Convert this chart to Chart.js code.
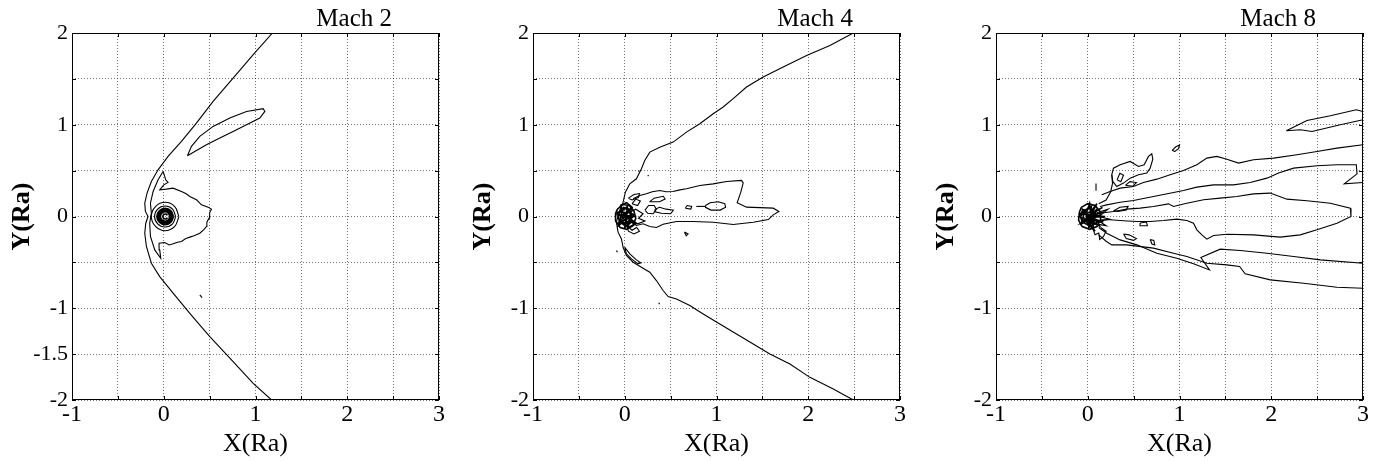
<!DOCTYPE html>
<html>
<head>
<meta charset="utf-8">
<script src="https://cdn.jsdelivr.net/npm/chart.js@4.4.0/dist/chart.umd.min.js"></script>
<style>
  body { margin: 0; background: #fff; width: 1382px; height: 461px; position: relative; overflow: hidden; }
  .panel { position: absolute; top: 0; height: 461px; }
</style>
</head>
<body>
<div class="panel" style="left:0px"><canvas id="mach2" width="460" height="461"></canvas></div>
<div class="panel" style="left:461px"><canvas id="mach4" width="460" height="461"></canvas></div>
<div class="panel" style="left:924px"><canvas id="mach8" width="458" height="461"></canvas></div>
<script>
// ---- tick labels ----
const xTickLabels = [-1, 0, 1, 2, 3];
const yTickLabelsMach2 = [2, 1, 0, -1, -1.5, -2];
const yTickLabels = [2, 1, 0, -1, -2];

// ---- Mach 2 contours (x, y in Ra) ----
const m2BowShock = [[1.185,2.0],[0.975,1.764],[0.756,1.509],[0.538,1.255],[0.356,1.018],[0.193,0.818],[0.047,0.655],[-0.062,0.509],[-0.135,0.382],[-0.182,0.255],[-0.207,0.145],[-0.2,0.055],[-0.171,0.0],[-0.196,-0.073],[-0.207,-0.182],[-0.189,-0.327],[-0.135,-0.509],[-0.044,-0.655],[0.102,-0.836],[0.284,-1.055],[0.502,-1.309],[0.756,-1.582],[0.975,-1.818],[1.175,-2.0]];
const m2Lobe = [[0.258,0.662],[0.302,0.764],[0.393,0.873],[0.538,0.982],[0.72,1.073],[0.902,1.145],[1.084,1.175],[1.102,1.145],[1.047,1.073],[0.902,1.0],[0.756,0.927],[0.611,0.855],[0.465,0.782],[0.338,0.709],[0.258,0.662]];
const m2Sheath = [[-0.007,0.491],[-0.062,0.4],[-0.116,0.273],[-0.145,0.145],[-0.135,0.036],[-0.153,-0.073],[-0.145,-0.218],[-0.098,-0.364],[-0.033,-0.455],[-0.044,-0.364],[-0.051,-0.291],[0.011,-0.284],[0.06,-0.31],[0.102,-0.298],[0.15,-0.28],[0.193,-0.273],[0.24,-0.24],[0.284,-0.225],[0.33,-0.21],[0.393,-0.182],[0.44,-0.14],[0.465,-0.109],[0.47,-0.06],[0.495,-0.018],[0.5,0.04],[0.52,0.08],[0.484,0.102],[0.411,0.127],[0.38,0.16],[0.356,0.182],[0.284,0.218],[0.24,0.25],[0.193,0.273],[0.102,0.309],[0.029,0.298],[-0.044,0.291],[0,0.345],[0.047,0.371],[0.022,0.4],[-0.007,0.491]];
const m2Ring1 = [[0.165,0],[0.12,0.108],[0.015,0.155],[-0.09,0.108],[-0.135,0],[-0.09,-0.108],[0.015,-0.155],[0.12,-0.108],[0.165,0]];
const m2Ring2 = [[0.13,0],[0.096,0.081],[0.015,0.115],[-0.066,0.081],[-0.1,0],[-0.066,-0.081],[0.015,-0.115],[0.096,-0.081],[0.13,0]];
const m2Ring3 = [[0.105,0],[0.078,0.063],[0.015,0.09],[-0.048,0.063],[-0.075,0],[-0.048,-0.063],[0.015,-0.09],[0.078,-0.063],[0.105,0]];
const m2Ring4 = [[0.095,0],[0.071,0.057],[0.015,0.081],[-0.041,0.057],[-0.065,0],[-0.041,-0.057],[0.015,-0.081],[0.071,-0.057],[0.095,0]];
const m2Ring5 = [[0.085,0],[0.064,0.049],[0.015,0.07],[-0.034,0.049],[-0.055,0],[-0.034,-0.049],[0.015,-0.07],[0.064,-0.049],[0.085,0]];
const m2Ring6 = [[0.075,0],[0.057,0.042],[0.015,0.06],[-0.027,0.042],[-0.045,0],[-0.027,-0.042],[0.015,-0.06],[0.057,-0.042],[0.075,0]];
const m2Ring7 = [[0.066,0],[0.051,0.036],[0.015,0.051],[-0.021,0.036],[-0.036,0],[-0.021,-0.036],[0.015,-0.051],[0.051,-0.036],[0.066,0]];
const m2Core = [[0.04,0.012],[0.025,0.026],[0.0,0.02],[-0.01,0],[0.0,-0.02],[0.025,-0.026],[0.04,-0.012]];
const m2Speck = [[0.393,-0.855],[0.418,-0.884]];

// ---- Mach 4 contours ----
const m4Shock = [[2.491,2.0],[2.236,1.865],[1.982,1.756],[1.727,1.629],[1.509,1.52],[1.327,1.411],[1.182,1.284],[1.073,1.193],[0.964,1.12],[0.818,1.011],[0.673,0.92],[0.527,0.811],[0.382,0.756],[0.273,0.702],[0.218,0.611],[0.182,0.52],[0.127,0.411],[0.055,0.356],[0.007,0.265],[-0.018,0.156],[-0.062,0.047],[-0.091,-0.062],[-0.073,-0.171],[-0.036,-0.244],[-0.018,-0.335],[0.018,-0.425],[0.091,-0.498],[0.182,-0.553],[0.273,-0.607],[0.345,-0.698],[0.418,-0.807],[0.473,-0.873],[0.564,-0.898],[0.709,-0.971],[0.855,-1.062],[1.036,-1.171],[1.218,-1.28],[1.4,-1.389],[1.582,-1.498],[1.8,-1.607],[2.018,-1.753],[2.273,-1.88],[2.491,-2.0]];
const m4Wake = [[0.091,0.193],[0.164,0.229],[0.236,0.247],[0.3,0.27],[0.382,0.284],[0.45,0.27],[0.527,0.273],[0.6,0.29],[0.673,0.302],[0.818,0.338],[0.964,0.356],[1.109,0.382],[1.273,0.393],[1.291,0.367],[1.265,0.265],[1.225,0.149],[1.327,0.102],[1.618,0.091],[1.68,0.055],[1.618,0.018],[1.564,-0.033],[1.4,-0.062],[1.182,-0.087],[0.964,-0.062],[0.745,-0.055],[0.564,-0.055],[0.418,-0.084],[0.345,-0.12],[0.273,-0.109],[0.2,-0.08],[0.127,-0.098],[0.073,-0.062]];
const m4Tongue = [[0.0,-0.335],[0.055,-0.407],[0.127,-0.473],[0.175,-0.505],[0.145,-0.516],[0.073,-0.462],[0.018,-0.407],[0.0,-0.335]];
const m4Oval = [[0.88,0.12],[0.93,0.15],[1.02,0.16],[1.09,0.14],[1.1,0.1],[1.04,0.07],[0.94,0.07],[0.88,0.1],[0.88,0.12]];
const m4OvalTail = [[0.78,0.11],[0.88,0.11]];
const m4Loop1 = [[0.66,0.09],[0.68,0.12],[0.73,0.11],[0.72,0.08],[0.66,0.09]];
const m4Loop2 = [[0.22,0.07],[0.26,0.12],[0.32,0.12],[0.345,0.08],[0.31,0.03],[0.25,0.035],[0.22,0.07]];
const m4Loop3 = [[0.33,0.08],[0.38,0.1],[0.45,0.08],[0.53,0.07],[0.5,0.03],[0.4,0.035],[0.33,0.05],[0.33,0.08]];
const m4Loop4 = [[0.27,0.16],[0.32,0.2],[0.42,0.22],[0.44,0.19],[0.38,0.16],[0.27,0.16]];
const m4Loop5 = [[0.04,0.2],[0.1,0.24],[0.16,0.25],[0.15,0.21],[0.08,0.18],[0.04,0.2]];
const m4Loop6 = [[0.65,-0.17],[0.69,-0.19],[0.67,-0.21],[0.65,-0.17]];
const m4CoreA = [[-0.05,0.12],[0.02,0.15],[0.08,0.1],[0.03,0.05],[0.1,0.02],[0.05,-0.05],[0.12,-0.08],[0.04,-0.12],[-0.02,-0.06],[-0.07,-0.1],[-0.04,0.0],[-0.09,0.04],[-0.03,0.06],[-0.05,0.12]];
const m4CoreB = [[-0.02,0.1],[0.05,0.08],[0.0,0.02],[0.07,-0.03],[0.0,-0.08],[-0.05,-0.03],[-0.02,0.1]];
const m4CoreC = [[0.0,0.05],[0.03,0.0],[0.0,-0.04],[-0.03,0.0],[0.0,0.05]];
const m4CoreD = [[0.02,-0.1],[0.08,-0.15],[0.13,-0.12],[0.16,-0.16],[0.1,-0.19],[0.04,-0.16],[0.02,-0.1]];
const m4CoreE = [[0.06,0.05],[0.12,0.08],[0.2,0.03],[0.15,-0.02],[0.22,-0.05],[0.14,-0.08],[0.06,-0.03]];
const m4CoreF = [[-0.08,0.08],[-0.02,0.13],[0.05,0.12],[0.1,0.06],[0.12,-0.02],[0.09,-0.1],[0.02,-0.14],[-0.05,-0.12],[-0.1,-0.05],[-0.1,0.03],[-0.08,0.08]];
const m4CoreG = [[-0.06,0.05],[0.0,0.09],[0.06,0.06],[0.08,0.0],[0.05,-0.07],[-0.01,-0.09],[-0.06,-0.05],[-0.07,0.01],[-0.06,0.05]];
const m4CoreH = [[-0.04,0.1],[0.04,-0.1],[0.07,0.08],[-0.06,-0.06],[0.1,0.0],[-0.08,0.02],[0.03,0.11],[0.0,-0.12],[0.09,-0.05],[-0.05,0.07]];
const m4CoreI = [[0.08,0.14],[0.12,0.19],[0.17,0.17],[0.14,0.12],[0.08,0.14]];
const m4Speck1 = [[0.15,0.49],[0.16,0.5]];
const m4Speck2 = [[0.25,0.44],[0.26,0.45]];
const m4Speck3 = [[-0.09,-0.37],[-0.08,-0.39]];
const m4Speck4 = [[0.37,-0.94],[0.38,-0.955]];

// ---- Mach 8 contours ----
const m8Island = [[2.164,0.935],[2.389,1.047],[2.644,1.098],[2.927,1.164],[3.0,1.145],[3.0,1.055],[2.753,1.0],[2.444,0.927],[2.316,0.945],[2.164,0.935]];
const m8Upper = [[3.0,0.782],[2.716,0.745],[2.498,0.709],[2.28,0.673],[2.025,0.636],[1.807,0.618],[1.644,0.582],[1.516,0.625],[1.407,0.655],[1.298,0.636],[1.189,0.564],[1.044,0.502],[0.898,0.455],[0.753,0.407],[0.607,0.371],[0.498,0.327],[0.353,0.309],[0.244,0.273],[0.153,0.236]];
const m8Second = [[3.0,0.371],[2.796,0.356],[2.935,0.465],[2.927,0.564],[2.716,0.564],[2.498,0.553],[2.244,0.527],[2.08,0.473],[1.953,0.418],[1.771,0.371],[1.589,0.345],[1.371,0.345],[1.189,0.32],[1.044,0.284],[0.935,0.262],[0.716,0.218],[0.498,0.175],[0.353,0.156],[0.207,0.127],[0.135,0.109]];
const m8Middle = [[0.135,0.036],[0.28,0.055],[0.425,0.08],[0.571,0.091],[0.716,0.109],[0.88,0.138],[0.935,0.109],[1.08,0.145],[1.262,0.182],[1.444,0.2],[1.625,0.218],[1.807,0.247],[1.989,0.255],[2.171,0.189],[2.389,0.171],[2.644,0.145],[2.862,0.091],[2.869,0.0],[2.716,-0.073],[2.498,-0.145],[2.316,-0.2],[2.098,-0.225],[1.807,-0.2],[1.516,-0.193],[1.371,-0.207],[1.298,-0.247],[1.244,-0.2],[1.189,-0.145],[1.153,-0.073],[1.08,-0.044],[0.971,-0.029],[0.825,-0.044],[0.68,-0.055],[0.535,-0.055],[0.389,-0.047],[0.244,-0.036],[0.135,-0.036]];
const m8Notched = [[0.12,-0.12],[0.207,-0.182],[0.353,-0.255],[0.535,-0.309],[0.753,-0.4],[0.971,-0.455],[1.153,-0.516],[1.327,-0.582],[1.233,-0.447],[1.444,-0.356],[1.662,-0.371],[1.953,-0.4],[2.244,-0.436],[2.535,-0.473],[3.0,-0.509]];
const m8Lower = [[0.12,-0.2],[0.2,-0.27],[0.262,-0.309],[0.425,-0.309],[0.716,-0.345],[0.935,-0.4],[1.08,-0.436],[1.298,-0.509],[1.516,-0.527],[1.655,-0.545],[1.716,-0.625],[1.989,-0.691],[2.353,-0.727],[2.716,-0.771],[3.0,-0.782]];
const m8Ragged = [[0.262,0.455],[0.28,0.527],[0.353,0.564],[0.462,0.6],[0.553,0.545],[0.615,0.564],[0.662,0.655],[0.698,0.684],[0.709,0.625],[0.68,0.527],[0.644,0.473],[0.553,0.455],[0.462,0.418],[0.389,0.364],[0.316,0.327],[0.273,0.382],[0.262,0.455]];
const m8Stem = [[0.12,0.14],[0.2,0.18],[0.25,0.27],[0.27,0.36],[0.262,0.455]];
const m8Dash = [[0.09,0.36],[0.09,0.28]];
const m8Loop1 = [[0.32,0.4],[0.35,0.47],[0.39,0.45],[0.36,0.38],[0.32,0.4]];
const m8Loop2 = [[0.41,0.34],[0.46,0.38],[0.53,0.37],[0.49,0.33],[0.41,0.34]];
const m8Loop3 = [[0.92,0.72],[0.96,0.76],[1.0,0.78],[0.99,0.74],[0.95,0.71],[0.92,0.72]];
const m8Loop4 = [[0.28,0.06],[0.35,0.1],[0.44,0.11],[0.42,0.07],[0.33,0.055],[0.28,0.06]];
const m8Loop5 = [[0.39,-0.19],[0.45,-0.2],[0.53,-0.24],[0.5,-0.26],[0.42,-0.24],[0.39,-0.19]];
const m8Loop6 = [[0.57,-0.07],[0.64,-0.06],[0.65,-0.1],[0.58,-0.1],[0.57,-0.07]];
const m8Loop7 = [[0.68,-0.25],[0.72,-0.26],[0.73,-0.31],[0.7,-0.3],[0.68,-0.25]];
const m8CoreA = [[0,0],[0.18,0.05],[0.02,0.01],[0.19,0.0],[0.02,-0.01],[0.17,-0.06],[0.01,-0.03],[0.14,-0.11],[0,-0.04],[0.08,-0.16],[-0.02,-0.05],[-0.07,-0.08],[-0.05,-0.02],[-0.09,0.0],[-0.05,0.03],[-0.06,0.08],[-0.01,0.05],[0.02,0.14],[0.03,0.05],[0.1,0.14],[0.04,0.03],[0.16,0.1],[0,0]];
const m8CoreB = [[-0.06,0.06],[0.02,0.09],[0.07,0.04],[0.06,-0.05],[0.0,-0.09],[-0.06,-0.06],[-0.08,0.0],[-0.06,0.06]];
const m8CoreC = [[-0.04,0.03],[0.03,0.05],[0.05,0.0],[0.02,-0.05],[-0.03,-0.04],[-0.05,0.0],[-0.04,0.03]];
const m8CoreD = [[-0.02,0.01],[0.01,0.02],[0.02,-0.01],[-0.01,-0.02],[-0.02,0.01]];
const m8CoreE = [[0.05,-0.12],[0.08,-0.2],[0.12,-0.18],[0.13,-0.25],[0.17,-0.22],[0.2,-0.16],[0.14,-0.12]];
const m8CoreF = [[-0.07,0.1],[0.0,0.14],[0.08,0.12],[0.13,0.06],[0.14,-0.03],[0.1,-0.11],[0.02,-0.14],[-0.06,-0.11],[-0.1,-0.04],[-0.09,0.05],[-0.07,0.1]];
const m8CoreG = [[-0.05,0.08],[0.06,-0.1],[0.09,0.07],[-0.07,-0.07],[0.12,0.01],[-0.08,0.03],[0.04,0.11],[0.01,-0.12],[0.11,-0.06],[-0.06,0.05]];
const m8CoreH = [[0.1,0.04],[0.22,0.08],[0.12,0.0],[0.24,-0.03],[0.12,-0.05],[0.2,-0.1],[0.09,-0.08]];

const mach2Lines = [m2BowShock, m2Lobe, m2Sheath, m2Ring1, m2Ring2, m2Ring3, m2Ring4, m2Ring5, m2Ring6, m2Ring7, m2Core, m2Speck];
const mach4Lines = [m4Shock, m4Wake, m4Tongue, m4Oval, m4OvalTail, m4Loop1, m4Loop2, m4Loop3, m4Loop4, m4Loop5, m4Loop6, m4CoreA, m4CoreB, m4CoreC, m4CoreD, m4CoreE, m4CoreF, m4CoreG, m4CoreH, m4CoreI, m4Speck1, m4Speck2, m4Speck3, m4Speck4];
const mach8Lines = [m8Island, m8Upper, m8Second, m8Middle, m8Notched, m8Lower, m8Ragged, m8Stem, m8Dash, m8Loop1, m8Loop2, m8Loop3, m8Loop4, m8Loop5, m8Loop6, m8Loop7, m8CoreA, m8CoreB, m8CoreC, m8CoreD, m8CoreE, m8CoreF, m8CoreG, m8CoreH];
const ringLines = [m2Ring1, m2Ring2, m2Ring3, m2Ring4, m2Ring5, m2Ring6, m2Ring7, m2Core];
const coreLines = [m2Ring3, m2Ring4, m2Ring5, m2Ring6, m2Ring7, m2Core, m4CoreA, m4CoreB, m4CoreC, m4CoreF, m4CoreG, m4CoreH, m8CoreA, m8CoreB, m8CoreC, m8CoreD, m8CoreF, m8CoreG];

const SERIF = '"Liberation Serif", "Times New Roman", serif';

// frame all around, inward ticks and the "Mach n" label
const frameTicks = {
  id: 'frameTicks',
  afterDraw(chart, args, opts) {
    const { ctx, chartArea: a, scales: { x, y } } = chart;
    ctx.save();
    ctx.strokeStyle = '#000';
    ctx.lineWidth = 1;
    ctx.strokeRect(a.left + 0.5, a.top + 0.5, a.right - a.left - 1, a.bottom - a.top - 1);
    ctx.beginPath();
    x.ticks.forEach(t => {
      const px = Math.round(x.getPixelForValue(t.value)) + 0.5;
      ctx.moveTo(px, a.bottom); ctx.lineTo(px, a.bottom - 4);
      ctx.moveTo(px, a.top); ctx.lineTo(px, a.top + 4);
    });
    y.ticks.forEach(t => {
      const py = Math.round(y.getPixelForValue(t.value)) + 0.5;
      ctx.moveTo(a.left, py); ctx.lineTo(a.left + 4, py);
      ctx.moveTo(a.right, py); ctx.lineTo(a.right - 4, py);
    });
    ctx.stroke();
    ctx.fillStyle = '#000';
    ctx.font = '25px ' + SERIF;
    ctx.textAlign = 'right';
    ctx.textBaseline = 'alphabetic';
    ctx.fillText(opts.title, a.right - 47, 26);
    ctx.restore();
  }
};

function makePanel(id, title, lines, yLabels, rightPad) {
  new Chart(document.getElementById(id), {
    type: 'scatter',
    data: {
      datasets: lines.map(line => ({
        data: line.map(([x, y]) => ({ x, y })),
        showLine: true,
        borderColor: '#000',
        borderWidth: coreLines.includes(line) ? 1.6 : 1.1,
        pointRadius: 0,
        tension: ringLines.includes(line) ? 0.4 : 0,
        fill: false
      }))
    },
    options: {
      responsive: false,
      animation: false,
      devicePixelRatio: 1,
      layout: { padding: { left: 0, top: 33, right: rightPad, bottom: 0 } },
      plugins: {
        legend: { display: false },
        tooltip: { enabled: false },
        frameTicks: { title: title }
      },
      scales: {
        x: {
          type: 'linear',
          min: -1, max: 3,
          afterFit(s) { s.height = 61; },
          ticks: {
            stepSize: 0.5,
            autoSkip: false,
            maxRotation: 0,
            padding: 0,
            color: '#000',
            font: { family: SERIF, size: 24 },
            callback: v => xTickLabels.includes(v) ? String(v) : ''
          },
          grid: { color: 'rgba(0,0,0,0.55)', lineWidth: 1, drawTicks: false },
          border: { display: false, dash: [1, 2] },
          title: { display: true, text: 'X(Ra)', color: '#000', font: { family: SERIF, size: 26 }, padding: { top: 0, bottom: 1 } }
        },
        y: {
          type: 'linear',
          min: -2, max: 2,
          afterFit(s) { s.width = 72; },
          ticks: {
            stepSize: 0.5,
            autoSkip: false,
            padding: 4,
            color: '#000',
            font: { family: SERIF, size: 22 },
            callback: v => yLabels.includes(v) ? String(v) : ''
          },
          grid: { color: 'rgba(0,0,0,0.55)', lineWidth: 1, drawTicks: false },
          border: { display: false, dash: [1, 2] },
          title: { display: true, text: 'Y(Ra)', color: '#000', font: { family: SERIF, size: 26, weight: 'bold' }, padding: { top: 7, bottom: 0 } }
        }
      }
    },
    plugins: [frameTicks]
  });
}

makePanel('mach2', 'Mach 2', mach2Lines, yTickLabelsMach2, 21);
makePanel('mach4', 'Mach 4', mach4Lines, yTickLabels, 21);
makePanel('mach8', 'Mach 8', mach8Lines, yTickLabels, 19);
</script>
</body>
</html>
